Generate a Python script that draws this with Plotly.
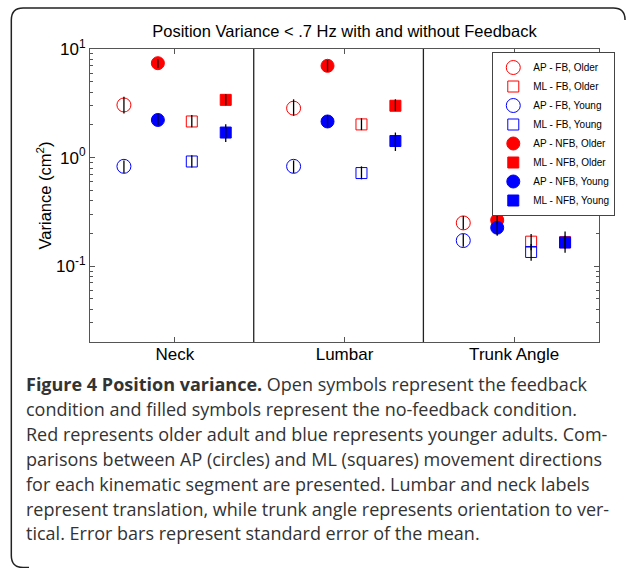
import plotly.graph_objects as go

# ---------------- data ----------------
categories = ["Neck", "Lumbar", "Trunk Angle"]

series_names = ["AP - FB, Older", "ML - FB, Older", "AP - FB, Young", "ML - FB, Young",
                "AP - NFB, Older", "ML - NFB, Older", "AP - NFB, Young", "ML - NFB, Young"]

ap_fb_older = [3.05, 2.85, 0.250]
ap_fb_older_hi = [3.63, 3.44, 0.290]
ap_fb_older_lo = [2.55, 2.43, 0.217]

ml_fb_older = [2.15, 2.02, 0.168]
ml_fb_older_hi = [2.46, 2.30, 0.198]
ml_fb_older_lo = [1.90, 1.79, 0.140]

ap_fb_young = [0.83, 0.83, 0.172]
ap_fb_young_hi = [0.94, 0.94, 0.198]
ap_fb_young_lo = [0.72, 0.72, 0.151]

ml_fb_young = [0.92, 0.72, 0.135]
ml_fb_young_hi = [1.05, 0.83, 0.160]
ml_fb_young_lo = [0.81, 0.63, 0.112]

ap_nfb_older = [7.40, 7.00, 0.265]
ap_nfb_older_hi = [8.10, 7.90, 0.300]
ap_nfb_older_lo = [6.70, 6.20, 0.245]

ml_nfb_older = [3.40, 3.00, 0.166]
ml_nfb_older_hi = [3.83, 3.44, 0.190]
ml_nfb_older_lo = [3.03, 2.68, 0.145]

ap_nfb_young = [2.22, 2.15, 0.226]
ap_nfb_young_hi = [2.50, 2.46, 0.260]
ap_nfb_young_lo = [1.99, 1.90, 0.190]

ml_nfb_young = [1.70, 1.42, 0.165]
ml_nfb_young_hi = [2.03, 1.70, 0.208]
ml_nfb_young_lo = [1.39, 1.15, 0.133]

y_tickvals = [0.1, 1, 10]
y_ticktext = ["10<sup>-1</sup>", "10<sup>0</sup>", "10<sup>1</sup>"]

caption_lines = [
    "<b>Figure 4 Position variance.</b> Open symbols represent the feedback",
    "condition and filled symbols represent the no-feedback condition.",
    "Red represents older adult and blue represents younger adults. Com-",
    "parisons between AP (circles) and ML (squares) movement directions",
    "for each kinematic segment are presented. Lumbar and neck labels",
    "represent translation, while trunk angle represents orientation to ver-",
    "tical. Error bars represent standard error of the mean.",
]

# ---------------- layout constants ----------------
W, H = 627, 568
PL, PR, PT, PB = 90, 607.5, 49, 341.7   # plot area in pixels


def px2x(px):
    return (px - PL) / (PR - PL)


def px2y(py):
    return (PB - py) / (PB - PT)


series = [
    (ap_fb_older, ap_fb_older_hi, ap_fb_older_lo, -0.3, "circle-open", "red", 14),
    (ml_fb_older, ml_fb_older_hi, ml_fb_older_lo, 0.1, "square-open", "red", 11),
    (ap_fb_young, ap_fb_young_hi, ap_fb_young_lo, -0.3, "circle-open", "blue", 14),
    (ml_fb_young, ml_fb_young_hi, ml_fb_young_lo, 0.1, "square-open", "blue", 11),
    (ap_nfb_older, ap_nfb_older_hi, ap_nfb_older_lo, -0.1, "circle", "red", 13),
    (ml_nfb_older, ml_nfb_older_hi, ml_nfb_older_lo, 0.3, "square", "red", 11),
    (ap_nfb_young, ap_nfb_young_hi, ap_nfb_young_lo, -0.1, "circle", "blue", 13),
    (ml_nfb_young, ml_nfb_young_hi, ml_nfb_young_lo, 0.3, "square", "blue", 11),
]

fig = go.Figure()
base = list(range(1, len(categories) + 1))

# markers
for name, (vals, hi, lo, off, sym, col, size) in zip(series_names, series):
    xs = [b + off for b in base]
    fig.add_trace(go.Scatter(
        x=xs, y=vals, mode="markers", name=name,
        marker=dict(symbol=sym, size=size, color=col,
                    line=dict(color=col, width=1)),
    ))

# error bars drawn on top of markers
for vals, hi, lo, off, sym, col, size in series:
    xs = [b + off for b in base]
    fig.add_trace(go.Scatter(
        x=xs, y=vals, mode="markers", showlegend=False, hoverinfo="skip",
        marker=dict(size=1, opacity=0),
        error_y=dict(type="data", symmetric=False,
                     array=[h - v for h, v in zip(hi, vals)],
                     arrayminus=[v - l for v, l in zip(vals, lo)],
                     color="black", thickness=1.3, width=0),
    ))

# separators between categories
for sx in [1.465, 2.465]:
    fig.add_shape(type="line", xref="x", yref="paper", x0=sx, x1=sx, y0=0, y1=1,
                  line=dict(color="#222", width=1.3))

# outer frame (right side runs off the canvas)
x0, x1 = px2x(10), px2x(634)
yt, yb = px2y(8), px2y(567)
rx = px2x(22) - px2x(10)
ry = px2y(8) - px2y(20)
path = (f"M {x0+rx*1.5},{yb} L {x0+rx},{yb} Q {x0},{yb} {x0},{yb+ry} "
        f"L {x0},{yt-ry} Q {x0},{yt} {x0+rx},{yt} "
        f"L {x1-rx},{yt} Q {x1},{yt} {x1},{yt-ry}")
fig.add_shape(type="path", xref="paper", yref="paper", path=path,
              line=dict(color="#222", width=1.5))

# caption
cap_y = [384, 409, 434, 459, 484, 509, 533]
for line, cy in zip(caption_lines, cap_y):
    fig.add_annotation(text=line, xref="paper", yref="paper",
                       x=px2x(23), y=px2y(cy), xanchor="left", yanchor="middle",
                       showarrow=False,
                       font=dict(family="Open Sans", size=18, color="#333"))

AXFONT = dict(family="Liberation Sans, Arial", size=17, color="black")

fig.update_layout(
    width=W, height=H, autosize=False,
    margin=dict(l=PL, r=W - PR, t=PT, b=H - PB),
    paper_bgcolor="white", plot_bgcolor="white",
    title=dict(text="Position Variance < .7 Hz with and without Feedback",
               x=0.5, xref="paper", y=1 - 31 / H, yref="container",
               xanchor="center", yanchor="middle",
               font=dict(family="Liberation Sans, Arial", size=16.5, color="black")),
    showlegend=True,
    legend=dict(x=px2x(499), y=px2y(52), xanchor="left", yanchor="top",
                bgcolor="white", bordercolor="#444", borderwidth=1,
                font=dict(family="Liberation Sans, Arial", size=10, color="black"),
                itemsizing="trace", itemwidth=30),
    xaxis=dict(range=[0.5, 3.5], tickvals=base, ticktext=categories,
               showgrid=False, zeroline=False, showline=True, linecolor="#555",
               linewidth=1, mirror="ticks", ticks="inside", ticklen=5,
               tickcolor="#555", tickfont=AXFONT, ticklabelstandoff=-3),
    yaxis=dict(type="log", range=[-1.699, 1], tickvals=y_tickvals, ticktext=y_ticktext,
               showgrid=False, zeroline=False, showline=True, linecolor="#555",
               linewidth=1, mirror="ticks", ticks="inside", ticklen=5,
               tickcolor="#555", tickfont=AXFONT,
               minor=dict(ticks="inside", ticklen=3, tickcolor="#555",
                          tickvals=[0.02, 0.03, 0.04, 0.05, 0.06, 0.07, 0.08, 0.09,
                                    0.2, 0.3, 0.4, 0.5, 0.6, 0.7, 0.8, 0.9,
                                    2, 3, 4, 5, 6, 7, 8, 9]),
               title=dict(text="Variance (cm<sup>2</sup>)",
                          font=dict(family="Liberation Sans, Arial", size=16.5, color="black"),
                          standoff=0)),
)

fig.write_html("out.html", config={"displayModeBar": False},
               post_script="document.body.style.margin='0';")
